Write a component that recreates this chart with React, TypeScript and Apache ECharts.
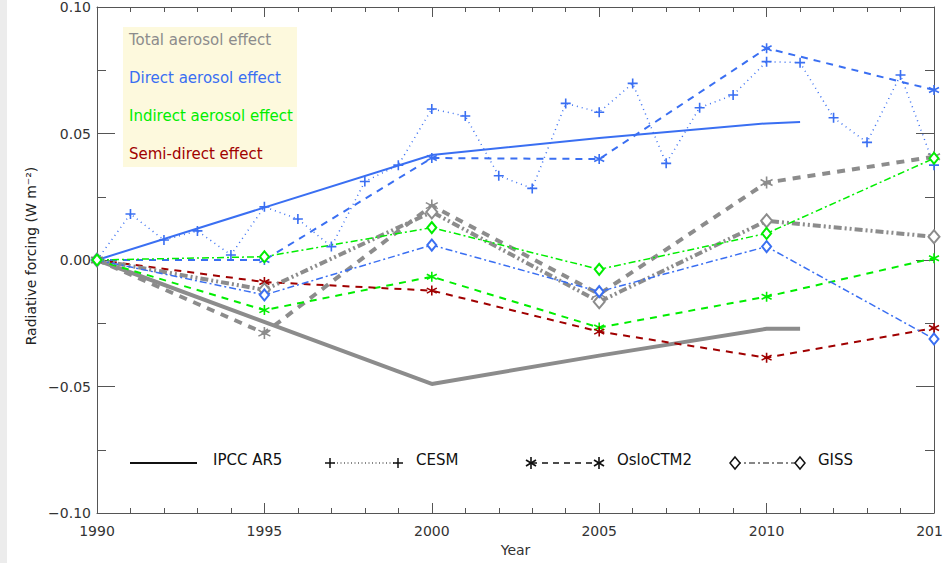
import React, { useEffect, useRef } from 'react';
import * as echarts from 'echarts';

// ---------- data ----------
const ipccYears = [1990, 2000, 2005, 2010, 2011];
const ipccTotal = [0, -0.049, -0.0378, -0.0272, -0.0272];
const ipccDirect = [0, 0.0415, 0.0482, 0.054, 0.0545];

const cesmYears = [1990, 1991, 1992, 1993, 1994, 1995, 1996, 1997, 1998, 1999, 2000, 2001, 2002, 2003, 2004, 2005, 2006, 2007, 2008, 2009, 2010, 2011, 2012, 2013, 2014, 2015];
const cesmDirect = [0, 0.0182, 0.0079, 0.0115, 0.002, 0.021, 0.0162, 0.0053, 0.031, 0.0375, 0.0597, 0.0569, 0.0333, 0.0283, 0.0619, 0.0584, 0.0698, 0.0382, 0.0602, 0.0652, 0.0784, 0.078, 0.0562, 0.0465, 0.0731, 0.0375];

const modelYears = [1990, 1995, 2000, 2005, 2010, 2015];
const osloTotal = [0, -0.0289, 0.0215, -0.0135, 0.0306, 0.0408];
const osloDirect = [0, 0.0, 0.0403, 0.0399, 0.0837, 0.0672];
const osloIndirect = [0, -0.0198, -0.0066, -0.0267, -0.0145, 0.0007];
const osloSemi = [0, -0.0087, -0.0121, -0.0283, -0.0386, -0.0269];
const gissTotal = [0, -0.0118, 0.019, -0.0165, 0.0155, 0.0092];
const gissDirect = [0, -0.0138, 0.0059, -0.0125, 0.0053, -0.0312];
const gissIndirect = [0, 0.0013, 0.0128, -0.0037, 0.0105, 0.0402];

const effectLabels = ['Total aerosol effect', 'Direct aerosol effect', 'Indirect aerosol effect', 'Semi-direct effect'];
const modelLabels = ['IPCC AR5', 'CESM', 'OsloCTM2', 'GISS'];

// ---------- styles ----------
const GRAY = '#8c8c8c';
const BLUE = '#3a6ff2';
const GREEN = '#00ee00';
const RED = '#a00000';
const AXIS = '#555555';
const FONT = 'DejaVu Sans';

const PLUS = 'path://M5,0L5,10M0,5L10,5';
const STAR = 'path://M5,0L5,10M0.7,2.5L9.3,7.5M0.7,7.5L9.3,2.5';
const DASHDOT = [7, 3, 2, 3];
const GRAYDASHDOT = [8, 3, 2, 3, 2, 3];

const pairs = (xs: number[], ys: number[]) => xs.map((x, i) => [x, ys[i]]);

function lineSeries(name: string, xs: number[], ys: number[], color: string, width: number, type: any, symbol: string, size: number | number[], empty = false) {
  return {
    name,
    type: 'line',
    data: pairs(xs, ys),
    showSymbol: symbol !== 'none',
    symbol,
    symbolSize: size,
    lineStyle: { color, width, type },
    itemStyle: empty ? { color, borderColor: color, borderWidth: 1.5 } : { color, borderColor: color, borderWidth: 1.6 },
    emphasis: { disabled: true },
    silent: true,
  };
}

function App() {
  const ref = useRef<HTMLDivElement>(null);
  useEffect(() => {
    if (!ref.current) return;
    const chart = echarts.init(ref.current, null, { renderer: 'svg' });

    const legendRowY = 462;
    const blk = '#111';
    const g: any[] = [];
    // left grey strip
    g.push({ type: 'rect', shape: { x: 0, y: 0, width: 7, height: 563 }, style: { fill: '#ececec' }, silent: true });
    // effect legend box
    g.push({ type: 'rect', shape: { x: 123, y: 27, width: 174, height: 140 }, style: { fill: '#fdf9dd' }, silent: true });
    const effColors = [GRAY, BLUE, GREEN, RED];
    effectLabels.forEach((t, i) => {
      g.push({ type: 'text', x: 129, y: 40 + i * 38, style: { text: t, fill: effColors[i], font: `15px "${FONT}"`, verticalAlign: 'middle', align: 'left' }, silent: true });
    });
    // y axis title
    g.push({ type: 'text', x: 31, y: 256, rotation: Math.PI / 2, style: { text: 'Radiative forcing (W m⁻²)', fill: '#222', font: `14px "${FONT}"`, align: 'center', verticalAlign: 'middle' }, silent: true });

    // model legend (bottom)
    const plusG = (cx: number, cy: number) => [
      { type: 'line', shape: { x1: cx - 5, y1: cy, x2: cx + 5, y2: cy }, style: { stroke: blk, lineWidth: 1.5 } },
      { type: 'line', shape: { x1: cx, y1: cy - 5, x2: cx, y2: cy + 5 }, style: { stroke: blk, lineWidth: 1.5 } },
    ];
    const starG = (cx: number, cy: number) => [
      { type: 'line', shape: { x1: cx, y1: cy - 6, x2: cx, y2: cy + 6 }, style: { stroke: blk, lineWidth: 1.6 } },
      { type: 'line', shape: { x1: cx - 5, y1: cy - 3, x2: cx + 5, y2: cy + 3 }, style: { stroke: blk, lineWidth: 1.6 } },
      { type: 'line', shape: { x1: cx - 5, y1: cy + 3, x2: cx + 5, y2: cy - 3 }, style: { stroke: blk, lineWidth: 1.6 } },
    ];
    const diaG = (cx: number, cy: number) => [
      { type: 'polygon', shape: { points: [[cx, cy - 6], [cx + 5, cy], [cx, cy + 6], [cx - 5, cy]] }, style: { stroke: blk, fill: '#fff', lineWidth: 1.5 } },
    ];
    const ly = legendRowY;
    g.push({ type: 'line', shape: { x1: 130, y1: ly + 1, x2: 197, y2: ly + 1 }, style: { stroke: blk, lineWidth: 2 } });
    g.push({ type: 'line', shape: { x1: 330, y1: ly + 1, x2: 398, y2: ly + 1 }, style: { stroke: blk, lineWidth: 1.2, lineDash: [1, 2.5] } });
    g.push(...plusG(330, ly + 1), ...plusG(398, ly + 1));
    g.push({ type: 'line', shape: { x1: 531, y1: ly + 1, x2: 599, y2: ly + 1 }, style: { stroke: blk, lineWidth: 1.5, lineDash: [6, 5] } });
    g.push(...starG(531, ly + 1), ...starG(599, ly + 1));
    g.push({ type: 'line', shape: { x1: 735, y1: ly + 1, x2: 800, y2: ly + 1 }, style: { stroke: blk, lineWidth: 1.2, lineDash: [6, 3, 2, 3] } });
    g.push(...diaG(735, ly + 1), ...diaG(800, ly + 1));
    const labelX = [213, 416, 617, 818];
    modelLabels.forEach((t, i) => {
      g.push({ type: 'text', x: labelX[i], y: ly - 2, style: { text: t, fill: blk, font: `15px "${FONT}"`, verticalAlign: 'middle', align: 'left' }, silent: true });
    });

    const tickStyle = { color: AXIS, width: 1 };
    const baseAxis = {
      type: 'value',
      axisLine: { show: true, onZero: false, lineStyle: { color: AXIS, width: 1 } },
      splitLine: { show: false },
      minorSplitLine: { show: false },
    };
    const xCommon = {
      ...baseAxis,
      min: 1990,
      max: 2015,
      interval: 5,
      axisTick: { show: true, inside: true, length: 10, lineStyle: tickStyle },
      minorTick: { show: true, splitNumber: 5, length: 5, lineStyle: tickStyle },
    };
    const yCommon = {
      ...baseAxis,
      min: -0.1,
      max: 0.1,
      interval: 0.05,
      axisTick: { show: true, inside: true, length: 18, lineStyle: tickStyle },
      minorTick: { show: true, splitNumber: 2, length: 9, lineStyle: tickStyle },
    };
    const fmtY = (v: number) => {
      const r = Math.round(v * 100) / 100;
      return (r < 0 ? '\u2212' : '') + Math.abs(r).toFixed(2);
    };

    const option: any = {
      animation: false,
      backgroundColor: '#ffffff',
      grid: { left: 97, right: 9, top: 7, bottom: 50, containLabel: false, outerBoundsMode: 'none' },
      xAxis: [
        {
          ...xCommon,
          position: 'bottom',
          axisLabel: { formatter: (v: number) => String(v), fontSize: 14, color: '#333', margin: 11, fontFamily: FONT, hideOverlap: false },
          name: 'Year',
          nameLocation: 'middle',
          nameGap: 29,
          nameTextStyle: { fontSize: 14, color: '#333', fontFamily: FONT },
        },
        { ...xCommon, position: 'top', axisLabel: { show: false } },
      ],
      yAxis: [
        { ...yCommon, position: 'left', axisLabel: { formatter: fmtY, fontSize: 14, color: '#333', margin: 6, fontFamily: FONT } },
        { ...yCommon, position: 'right', axisLabel: { show: false } },
      ],
      series: [
        lineSeries('IPCC total', ipccYears, ipccTotal, GRAY, 4, 'solid', 'none', 0),
        lineSeries('IPCC direct', ipccYears, ipccDirect, BLUE, 2, 'solid', 'none', 0),
        lineSeries('CESM direct', cesmYears, cesmDirect, BLUE, 1.5, [1, 4], PLUS, 10),
        lineSeries('Oslo total', modelYears, osloTotal, GRAY, 4, [8, 7], STAR, 12),
        lineSeries('Oslo direct', modelYears, osloDirect, BLUE, 2, [7, 6], STAR, 10),
        lineSeries('Oslo indirect', modelYears, osloIndirect, GREEN, 2, [7, 6], STAR, 10),
        lineSeries('Oslo semi', modelYears, osloSemi, RED, 2, [7, 6], STAR, 10),
        lineSeries('GISS total', modelYears, gissTotal, GRAY, 4, GRAYDASHDOT, 'emptyDiamond', [11, 13], true),
        lineSeries('GISS direct', modelYears, gissDirect, BLUE, 1.5, DASHDOT, 'emptyDiamond', [9, 11], true),
        lineSeries('GISS indirect', modelYears, gissIndirect, GREEN, 1.5, DASHDOT, 'emptyDiamond', [9, 11], true),
      ],
      graphic: { elements: g },
    };
    chart.setOption(option);
    return () => chart.dispose();
  }, []);
  return <div ref={ref} style={{ position: 'fixed', left: 0, top: 0, width: 943, height: 563, background: '#fff' }} />;
}

export default App;
